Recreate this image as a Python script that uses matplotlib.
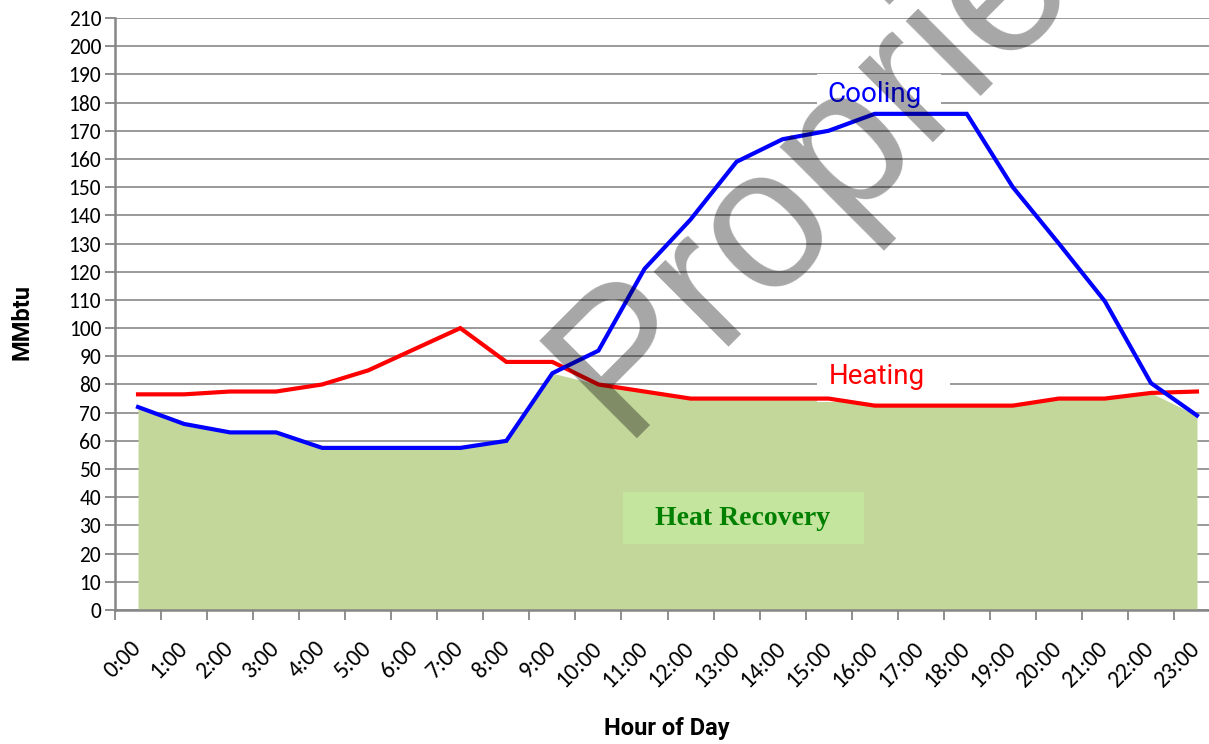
import numpy as np
import matplotlib
matplotlib.use("Agg")
import matplotlib.pyplot as plt
from matplotlib.patches import Rectangle

hours = ["0:00", "1:00", "2:00", "3:00", "4:00", "5:00", "6:00", "7:00",
         "8:00", "9:00", "10:00", "11:00", "12:00", "13:00", "14:00", "15:00",
         "16:00", "17:00", "18:00", "19:00", "20:00", "21:00", "22:00", "23:00"]
cooling = [72, 66, 63, 63, 57.5, 57.5, 57.5, 57.5, 60, 84, 92, 121,
           138.5, 159, 167, 170, 176, 176, 176, 150, 130, 109.5, 80.5, 69]
heating = [76.5, 76.5, 77.5, 77.5, 80, 85, 92.5, 100, 88, 88, 80, 77.5,
           75, 75, 75, 75, 72.5, 72.5, 72.5, 72.5, 75, 75, 77, 77.5]
yticks = list(range(0, 211, 10))

TICK_FONT = ['Carlito', 'Lato', 'DejaVu Sans']
LABEL_FONT = ['Roboto', 'Liberation Sans', 'DejaVu Sans']

W, H = 1209, 744


def main():
    fig = plt.figure(figsize=(W / 100, H / 100), dpi=100)
    # plot area: left edge at 115px, bottom at 610px, 24 categories of ~46px (runs past the right edge)
    ax = fig.add_axes([115 / W, 1 - 610 / H, 1105 / W, 592 / H])

    x = np.arange(len(hours))
    recovery = np.minimum(cooling, heating)

    ax.fill_between(x, 0, recovery, color='#C4D79B', linewidth=0, zorder=1)
    ax.plot(x, heating, color='#FF0000', lw=3, zorder=4, solid_joinstyle='miter')
    ax.plot(x, cooling, color='#0000FF', lw=3, zorder=4, solid_joinstyle='miter')

    ax.set_xlim(-0.5, len(hours) - 0.5)
    ax.set_ylim(0, 210)

    ax.set_yticks(yticks)
    ax.set_yticklabels([str(v) for v in yticks], family=TICK_FONT, fontsize=15.5)
    ax.grid(axis='y', color='#9A9A9A', lw=1.4, zorder=0)
    ax.set_axisbelow(True)

    ax.set_xticks(x)
    ax.set_xticklabels(hours, family=TICK_FONT, fontsize=17, rotation=45,
                       ha='right', va='center', rotation_mode='anchor')
    ax.set_xticks(np.arange(-0.5, len(hours)), minor=True)
    ax.tick_params(axis='x', which='major', length=0, pad=25)
    ax.tick_params(axis='x', which='minor', length=7, width=1.3, color='#868686')
    ax.tick_params(axis='y', length=7, width=1.3, color='#868686', pad=3)

    for side in ['top', 'right']:
        ax.spines[side].set_visible(False)
    for side in ['left', 'bottom']:
        ax.spines[side].set_color('#868686')
        ax.spines[side].set_linewidth(1.8)

    ax.set_ylabel('MMbtu', family=LABEL_FONT, fontweight='bold', fontsize=17, va='center')
    ax.set_xlabel('Hour of Day', family=LABEL_FONT, fontweight='bold', fontsize=17, va='center')
    ax.xaxis.set_label_coords((667 - 115) / 1105, -(729 - 610) / 592)
    ax.yaxis.set_label_coords(-(115 - 22) / 1105, (610 - 322) / 592)

    # series labels with white boxes
    ax.add_patch(Rectangle((0.635, 0.834), 0.1125, 0.071, transform=ax.transAxes,
                           facecolor='white', edgecolor='none', zorder=2))
    ax.text(0.687, 0.870, 'Cooling', transform=ax.transAxes, color='#0000FF',
            family=LABEL_FONT, fontsize=20, ha='center', va='center', zorder=5)
    ax.add_patch(Rectangle((0.635, 0.351), 0.1207, 0.076, transform=ax.transAxes,
                           facecolor='white', edgecolor='none', zorder=2))
    ax.text(0.689, 0.394, 'Heating', transform=ax.transAxes, color='#FF0000',
            family=LABEL_FONT, fontsize=20, ha='center', va='center', zorder=5)

    ax.add_patch(Rectangle((0.4597, 0.1115), 0.2183, 0.0875, transform=ax.transAxes,
                           facecolor='#C4E59D', edgecolor='none', zorder=2))
    ax.text(0.568, 0.155, 'Heat Recovery', transform=ax.transAxes, color='#008000',
            family=['Liberation Serif', 'DejaVu Serif'], fontweight='bold', fontsize=20,
            ha='center', va='center', zorder=5)

    # watermark across the chart
    fig.text(621 / W, 1 - 438 / H, 'Proprietary', rotation=45, rotation_mode='anchor',
             ha='left', va='baseline', fontsize=144, family=['Liberation Sans', 'DejaVu Sans'],
             color='black', alpha=0.35, zorder=10)

    fig.savefig('out.png', dpi=100)


if __name__ == "__main__":
    main()
